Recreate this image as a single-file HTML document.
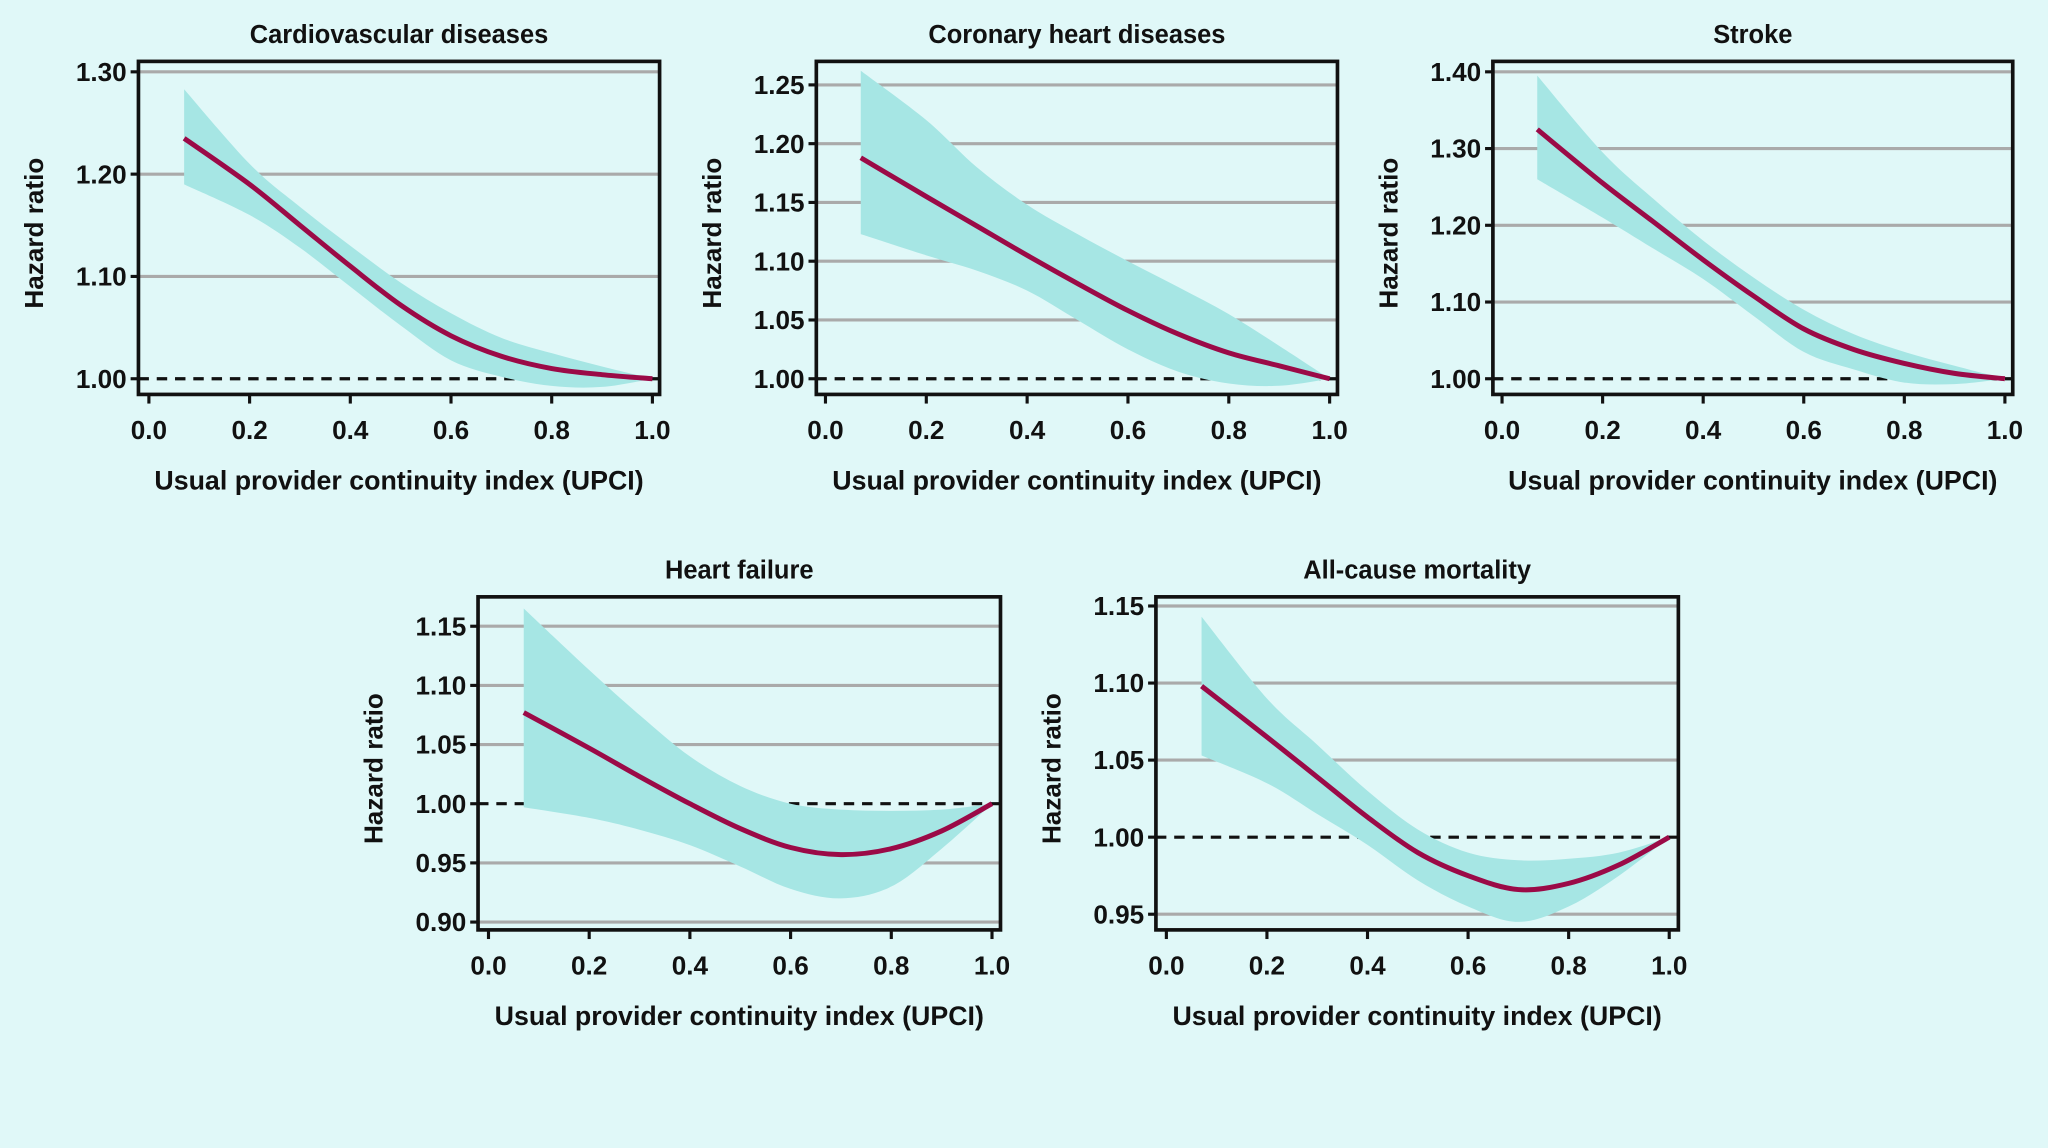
<!DOCTYPE html>
<html><head><meta charset="utf-8">
<style>
html,body{margin:0;padding:0;background:#e0f8f8;}
svg{display:block;}
text{font-family:"Liberation Sans Narrow","Liberation Sans",sans-serif;font-weight:bold;fill:#111;}
</style></head>
<body>
<svg id="chart" width="2048" height="1148" viewBox="0 0 1568 879" preserveAspectRatio="none" xmlns="http://www.w3.org/2000/svg">
<rect x="0" y="0" width="1568" height="879" fill="#e0f8f8"/>
</svg>
<script>
// ---- data ----
const titles = ["Cardiovascular diseases","Coronary heart diseases","Stroke","Heart failure","All-cause mortality"];
const xs = [0.07,0.2,0.3,0.4,0.5,0.6,0.7,0.8,0.9,1.0];
const cvdMean = [1.235,1.19,1.15,1.11,1.072,1.042,1.022,1.010,1.004,1.0];
const cvdHi   = [1.283,1.21,1.168,1.13,1.094,1.064,1.040,1.025,1.012,1.0];
const cvdLo   = [1.190,1.160,1.128,1.090,1.052,1.018,1.002,0.993,0.992,1.0];
const chdMean = [1.188,1.155,1.13,1.105,1.081,1.058,1.038,1.022,1.011,1.0];
const chdHi   = [1.262,1.22,1.18,1.148,1.123,1.10,1.078,1.055,1.028,1.0];
const chdLo   = [1.123,1.105,1.092,1.075,1.05,1.025,1.006,0.996,0.994,1.0];
const strMean = [1.325,1.255,1.205,1.155,1.108,1.065,1.038,1.02,1.007,1.0];
const strHi   = [1.395,1.295,1.235,1.18,1.132,1.09,1.058,1.035,1.017,1.0];
const strLo   = [1.26,1.21,1.17,1.13,1.082,1.035,1.012,0.995,0.993,1.0];
const hfMean  = [1.077,1.047,1.023,1.0,0.979,0.963,0.957,0.962,0.977,1.0];
const hfHi    = [1.165,1.113,1.075,1.04,1.015,1.0,0.995,0.994,0.995,1.0];
const hfLo    = [0.997,0.988,0.978,0.965,0.947,0.928,0.92,0.93,0.962,1.0];
const acmMean = [1.098,1.065,1.039,1.013,0.99,0.975,0.966,0.97,0.982,1.0];
const acmHi   = [1.143,1.09,1.06,1.03,1.005,0.99,0.985,0.986,0.99,1.0];
const acmLo   = [1.053,1.035,1.015,0.995,0.972,0.955,0.945,0.955,0.975,1.0];
const yTicks1 = [1.00,1.10,1.20,1.30];
const yTicks2 = [1.00,1.05,1.10,1.15,1.20,1.25];
const yTicks3 = [1.00,1.10,1.20,1.30,1.40];
const yTicks4 = [0.90,0.95,1.00,1.05,1.10,1.15];
const yTicks5 = [0.95,1.00,1.05,1.10,1.15];
const xTicks = [0,0.2,0.4,0.6,0.8,1.0];

// ---- layout ----
const panels = [
 {title:titles[0],mean:cvdMean,hi:cvdHi,lo:cvdLo,ticks:yTicks1,dec:2,fx0:106,fx1:505,fy0:47,fy1:302,x0:114,x1:499.5,t0:1.0,p0:290,t1:1.3,p1:55,name:"cardiovascular"},
 {title:titles[1],mean:chdMean,hi:chdHi,lo:chdLo,ticks:yTicks2,dec:2,fx0:625,fx1:1024,fy0:47,fy1:302,x0:632,x1:1018,t0:1.0,p0:290,t1:1.25,p1:65,name:"coronary"},
 {title:titles[2],mean:strMean,hi:strHi,lo:strLo,ticks:yTicks3,dec:2,fx0:1143,fx1:1541,fy0:47,fy1:302,x0:1150,x1:1535,t0:1.0,p0:290,t1:1.4,p1:55,name:"stroke"},
 {title:titles[3],mean:hfMean,hi:hfHi,lo:hfLo,ticks:yTicks4,dec:2,fx0:366,fx1:766,fy0:457,fy1:712,x0:374,x1:759.5,t0:0.9,p0:706,t1:1.15,p1:479.5,name:"heart-failure"},
 {title:titles[4],mean:acmMean,hi:acmHi,lo:acmLo,ticks:yTicks5,dec:2,fx0:885,fx1:1285,fy0:457,fy1:712,x0:893,x1:1278,t0:0.95,p0:700,t1:1.15,p1:464,name:"all-cause-mortality"}
];
const NS="http://www.w3.org/2000/svg";
const svg=document.getElementById('chart');
function mk(tag,attrs,parent){const e=document.createElementNS(NS,tag);for(const k in attrs)e.setAttribute(k,attrs[k]);(parent||svg).appendChild(e);return e;}
function smooth(pts){let d="M"+pts[0][0]+","+pts[0][1];for(let i=0;i<pts.length-1;i++){const p0=pts[i-1]||pts[i],p1=pts[i],p2=pts[i+1],p3=pts[i+2]||p2;const c1=[p1[0]+(p2[0]-p0[0])/6,p1[1]+(p2[1]-p0[1])/6];const c2=[p2[0]-(p3[0]-p1[0])/6,p2[1]-(p3[1]-p1[1])/6];d+=" C"+c1[0]+","+c1[1]+" "+c2[0]+","+c2[1]+" "+p2[0]+","+p2[1];}return d;}
function smoothCont(pts){return smooth(pts).replace(/^M/,"L");}

panels.forEach(p=>{
  const X=v=>p.x0+(p.x1-p.x0)*v;
  const Y=v=>p.p0+(p.p1-p.p0)*(v-p.t0)/(p.t1-p.t0);
  const g=mk('g',{});
  
  
  const t=mk('text',{x:(p.fx0+p.fx1)/2,y:p.fy0-14,'text-anchor':'middle','font-size':19.5},g);
  t.textContent=p.title;
  
  
  p.ticks.forEach(v=>{
    if(Math.abs(v-1)>1e-9){const gl=mk('line',{x1:p.fx0,x2:p.fx1,y1:Y(v),y2:Y(v),stroke:'#aaaaaa','stroke-width':2.4},g);
    
    }
    mk('line',{x1:p.fx0-6,x2:p.fx0,y1:Y(v),y2:Y(v),stroke:'#111','stroke-width':2.4},g);
    const lb=mk('text',{x:p.fx0-9,y:Y(v)+7,'text-anchor':'end','font-size':20},g);
    lb.textContent=v.toFixed(p.dec);
    
    
  });
  const ref=mk('line',{x1:p.fx0,x2:p.fx1,y1:Y(1),y2:Y(1),stroke:'#111','stroke-width':2.4,'stroke-dasharray':'8,6'},g);
  
  
  const hiPts=xs.map((x,i)=>[X(x),Y(p.hi[i])]);
  const loPts=xs.map((x,i)=>[X(x),Y(p.lo[i])]).reverse();
  const band=mk('path',{d:smooth(hiPts)+" "+smoothCont(loPts)+" Z",fill:'#a6e6e4',stroke:'none'},g);
  
  
  const ln=mk('path',{d:smooth(xs.map((x,i)=>[X(x),Y(p.mean[i])])),fill:'none',stroke:'#9b0a47','stroke-width':3.8},g);
  
  
  const fr=mk('rect',{x:p.fx0,y:p.fy0,width:p.fx1-p.fx0,height:p.fy1-p.fy0,fill:'none',stroke:'#111','stroke-width':2.8},g);
  
  
  xTicks.forEach(v=>{
    mk('line',{x1:X(v),x2:X(v),y1:p.fy1,y2:p.fy1+7,stroke:'#111','stroke-width':2.4},g);
    const lb=mk('text',{x:X(v),y:p.fy1+34,'text-anchor':'middle','font-size':20},g);
    lb.textContent=v.toFixed(1);
    
    
  });
  const xl=mk('text',{x:(p.fx0+p.fx1)/2,y:p.fy1+73,'text-anchor':'middle','font-size':20.5},g);
  xl.textContent='Usual provider continuity index (UPCI)';
  
  
  const cy=(p.fy0+p.fy1)/2+4;
  const yl=mk('text',{x:p.fx0-73,y:cy,'text-anchor':'middle','font-size':20,transform:'rotate(-90 '+(p.fx0-73)+' '+cy+')'},g);
  yl.textContent='Hazard ratio';
  
  
});
</script>
</body></html>
